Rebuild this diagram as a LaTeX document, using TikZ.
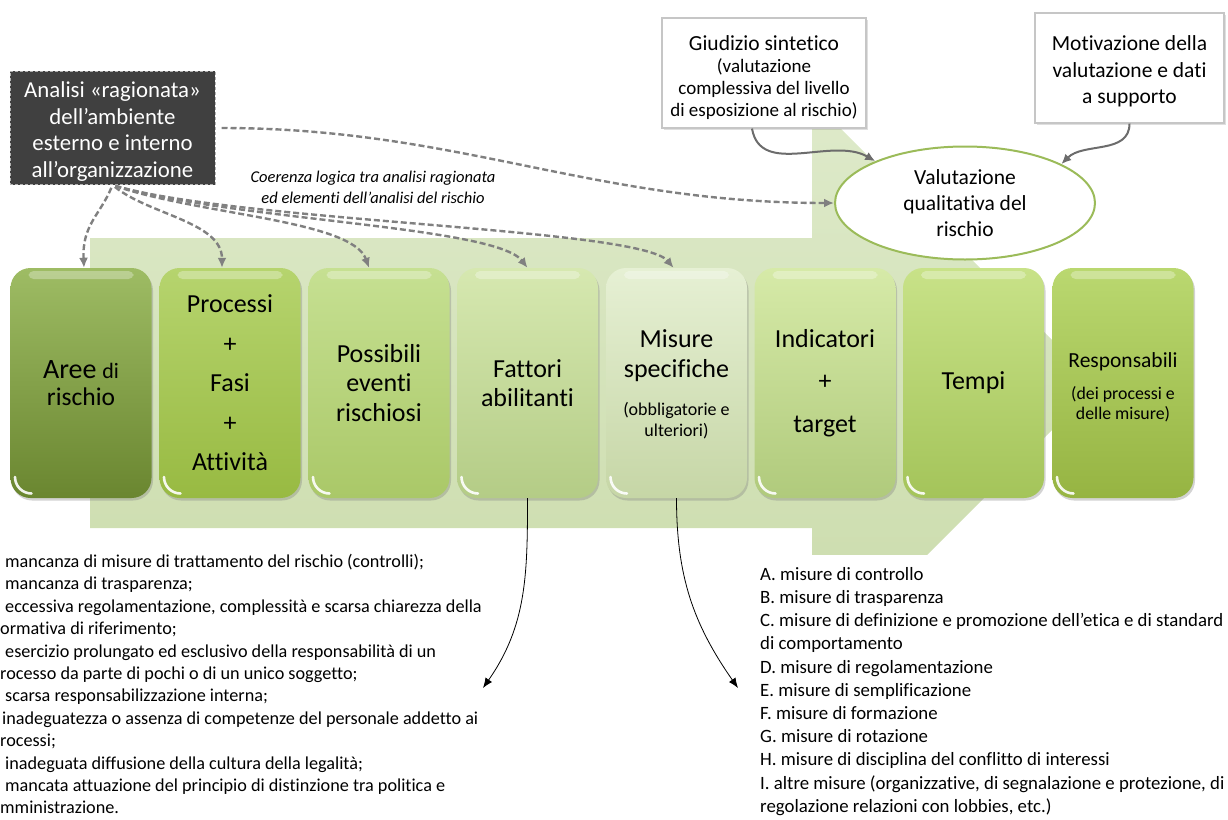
\documentclass[tikz,border=0pt]{standalone}
\usepackage{fontspec}
\setmainfont{Carlito}[Ligatures=NoCommon]
\usetikzlibrary{arrows.meta,shapes.geometric,shadows}

\definecolor{sfondoA}{RGB}{222,234,202}
\definecolor{sfondoB}{RGB}{202,219,170}
\definecolor{scuro}{RGB}{64,64,64}
\definecolor{bordoval}{RGB}{155,187,89}

\begin{document}
\begin{tikzpicture}[x=1pt,y=-1pt,
    fase/.style={rounded corners=20pt, minimum width=141pt, minimum height=230pt,
        inner sep=2pt, align=center, font=\fontsize{26}{29.5}\selectfont,
        drop shadow={opacity=0.35, shadow xshift=1.5pt, shadow yshift=-2.5pt},
        path picture={
            \fill[white, opacity=0.3, rounded corners=5pt]
                ([shift={(18,3)}]path picture bounding box.north west) rectangle
                ([shift={(-18,11)}]path picture bounding box.north east);
            \draw[white, line width=2.6pt, opacity=0.9, line cap=round]
                ([shift={(4.5,-21)}]path picture bounding box.south west) to[out=-90, in=180]
                ([shift={(21,-4.5)}]path picture bounding box.south west);
        }},
    nota/.style={draw=gray!45, line width=1.2pt, fill=white, align=center,
        drop shadow={opacity=0.25, shadow xshift=2pt, shadow yshift=-2pt}},
    legame/.style={gray, line width=2.4pt, dash pattern=on 6pt off 3pt,
        -{Latex[length=10pt, width=9pt]}},
    apporto/.style={gray!85!black, line width=2pt, -{Latex[length=10pt, width=9pt]}},
    rinvio/.style={black, line width=0.8pt, -{Latex[length=10pt, width=8pt]}},
    elenco/.style={anchor=north west, align=left, inner sep=0pt,
        font=\fontsize{18.2}{22.4}\selectfont}]

    \useasboundingbox (0,0) rectangle (1228,819);

    % freccia di sfondo
    \shade[top color=sfondoA, bottom color=sfondoB]
        (90,238) -- (812,238) -- (812,100) -- (1097,385) -- (812,670) -- (812,528) -- (90,528) -- cycle;
    \fill[white] (750,555) rectangle (1228,819);

    % fasi
    \node[fase, top color={rgb,255:red,158;green,188;blue,100}, bottom color={rgb,255:red,106;green,134;blue,48},
        font=\fontsize{25.5}{27}\selectfont] (aree) at (81,383)
        {{\fontsize{28}{27}\selectfont Aree} {\fontsize{22}{27}\selectfont di}\\rischio};
    \node[fase, top color={rgb,255:red,182;green,212;blue,110}, bottom color={rgb,255:red,152;green,186;blue,66},
        font=\fontsize{26}{39.5}\selectfont] (proc) at (230,383)
        {Processi\\+\\Fasi\\+\\Attività};
    \node[fase, top color={rgb,255:red,198;green,224;blue,146}, bottom color={rgb,255:red,170;green,200;blue,104}] (even) at (379,383)
        {Possibili\\eventi\\rischiosi};
    \node[fase, top color={rgb,255:red,214;green,232;blue,176}, bottom color={rgb,255:red,180;green,204;blue,134}] (fatt) at (527.5,383)
        {Fattori\\abilitanti};
    \node[fase, top color={rgb,255:red,230;green,240;blue,212}, bottom color={rgb,255:red,198;green,214;blue,166}] (mis) at (676.5,383)
        {\rule{0pt}{25pt}Misure\\specifiche\\[9pt]{\fontsize{18}{21}\selectfont\begin{tabular}[t]{@{}c@{}}(obbligatorie e\\ulteriori)\end{tabular}}};
    \node[fase, top color={rgb,255:red,214;green,234;blue,168}, bottom color={rgb,255:red,176;green,202;blue,124},
        font=\fontsize{26}{42.5}\selectfont] (ind) at (825,383)
        {Indicatori\\+\\target};
    \node[fase, top color={rgb,255:red,200;green,226;blue,136}, bottom color={rgb,255:red,164;green,196;blue,90}] (temp) at (973.5,383)
        {Tempi};
    \node[fase, top color={rgb,255:red,186;green,216;blue,112}, bottom color={rgb,255:red,150;green,180;blue,66},
        font=\fontsize{21.5}{32}\selectfont] (resp) at (1123,383)
        {\rule{0pt}{26pt}Responsabili\\{\fontsize{17.8}{20}\selectfont\begin{tabular}[t]{@{}c@{}}(dei processi e\\delle misure)\end{tabular}}};

    % analisi del contesto
    \node[fill=scuro, draw=gray!60, densely dashed, line width=1pt, text=white,
        minimum width=205pt, minimum height=112pt, align=center,
        font=\fontsize{22.8}{26.5}\selectfont] (ctx) at (112.5,128)
        {\rule{0pt}{23pt}Analisi «ragionata»\\dell’ambiente\\esterno e interno\\all’organizzazione};
    \node[align=center, font=\itshape\fontsize{16.5}{21}\selectfont] (coer) at (373,187)
        {Coerenza logica tra analisi ragionata\\ed elementi dell’analisi del rischio};

    % valutazione
    \node[nota, minimum width=204pt, minimum height=110pt, font=\fontsize{19}{22}\selectfont] (giud) at (764,73)
        {{\fontsize{21.5}{24}\selectfont\rule{0pt}{25pt}Giudizio sintetico}\\(valutazione\\complessiva del livello\\di esposizione al rischio)};
    \node[nota, minimum width=189pt, minimum height=110pt, font=\fontsize{21.5}{26.5}\selectfont] (motiv) at (1129.5,68)
        {\rule{0pt}{22pt}Motivazione della\\valutazione e dati\\a supporto};
    \node[ellipse, draw=bordoval, line width=2pt, fill=white, minimum width=260pt, minimum height=113pt,
        inner sep=0pt, align=center, font=\fontsize{21.5}{26}\selectfont] (val) at (965,203)
        {Valutazione\\qualitativa del\\rischio};

    \draw[apporto] ([xshift=-12pt]giud.south) to[out=-80, in=150] (val.155);
    \draw[apporto] (motiv.south) to[out=-90, in=45] (val.22);

    \draw[legame, shorten <=6pt] (ctx.east) to[out=0, in=180] (val.west);
    \draw[legame, shorten <=3pt] (ctx.south) .. controls (100,215) and (82,225) .. ([xshift=3pt]aree.north);
    \draw[legame, shorten <=3pt] (ctx.south) .. controls (150,215) and (222,222) .. ([xshift=-8pt]proc.north);
    \draw[legame, shorten <=3pt] (ctx.south) .. controls (200,215) and (352,220) .. ([xshift=-10pt]even.north);
    \draw[legame, shorten <=3pt] (ctx.south) .. controls (230,220) and (495,226) .. (fatt.north);
    \draw[legame, shorten <=3pt] (ctx.south) .. controls (240,222) and (640,228) .. ([xshift=-3pt]mis.north);

    % elenchi
    \coordinate (fattfine) at (483,688);
    \coordinate (misfine) at (738,688);
    \draw[rinvio] (fatt.south) to[out=-90, in=55] (fattfine);
    \draw[rinvio] (mis.south) to[out=-90, in=125] (misfine);

    \node[elenco] (elfatt) at (0,554)
        {\hspace*{5pt}mancanza di misure di trattamento del rischio (controlli);\\
         \hspace*{5pt}mancanza di trasparenza;\\
         \hspace*{5pt}eccessiva regolamentazione, complessità e scarsa chiarezza della\\
         ormativa di riferimento;\\
         \hspace*{5pt}esercizio prolungato ed esclusivo della responsabilità di un\\
         rocesso da parte di pochi o di un unico soggetto;\\
         \hspace*{5pt}scarsa responsabilizzazione interna;\\
         \hspace*{2pt}inadeguatezza o assenza di competenze del personale addetto ai\\
         rocessi;\\
         \hspace*{5pt}inadeguata diffusione della cultura della legalità;\\
         \hspace*{5pt}mancata attuazione del principio di distinzione tra politica e\\
         mministrazione.};
    \node[elenco, font=\fontsize{18.8}{23.2}\selectfont] (elmis) at (760,567)
        {A. misure di controllo\\
         B. misure di trasparenza\\
         C. misure di definizione e promozione dell’etica e di standard\\
         di comportamento\\
         D. misure di regolamentazione\\
         E. misure di semplificazione\\
         F. misure di formazione\\
         G. misure di rotazione\\
         H. misure di disciplina del conflitto di interessi\\
         I. altre misure (organizzative, di segnalazione e protezione, di\\
         regolazione relazioni con lobbies, etc.)};

\end{tikzpicture}
\end{document}
